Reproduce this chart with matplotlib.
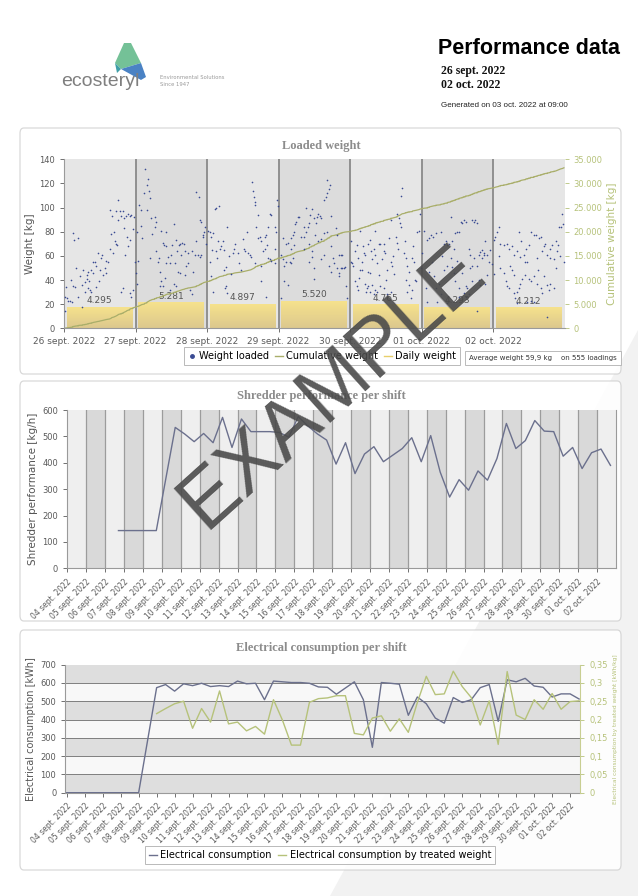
import numpy as np
import matplotlib
matplotlib.use("Agg")
import matplotlib.pyplot as plt
from matplotlib import font_manager
from matplotlib.colors import LinearSegmentedColormap
from matplotlib.lines import Line2D
from matplotlib.patches import FancyBboxPatch, Polygon
from matplotlib.ticker import FuncFormatter

# ---------------- data ----------------
load_days = ['26 sept. 2022', '27 sept. 2022', '28 sept. 2022', '29 sept. 2022',
             '30 sept. 2022', '01 oct. 2022', '02 oct. 2022']
daily_weight = [4295, 5281, 4897, 5520, 4765, 4293, 4212]

# loadings per day: (hour of day, kg)
loads_26 = [(0.2, 14), (0.3, 26), (0.9, 25), (1.4, 23), (2.0, 23), (2.6, 22), (0.7, 34), (2.2, 40),
            (2.9, 35), (3.7, 34), (2.9, 79), (3.3, 73), (4.8, 75), (4.0, 50), (4.8, 26), (5.3, 43),
            (6.2, 36), (6.4, 48), (7.0, 38), (7.6, 44), (7.8, 41), (8.1, 47), (8.7, 32), (8.4, 39),
            (9.2, 48), (9.6, 46), (9.8, 55), (10.3, 55), (10.7, 52), (6.2, 18), (7.0, 30), (8.1, 33),
            (9.2, 30), (10.9, 34), (13.7, 50), (14.0, 46), (14.2, 56), (14.8, 55), (15.3, 66),
            (15.9, 78), (16.4, 62), (17.0, 72), (17.3, 70), (17.8, 69), (15.6, 98), (16.0, 93),
            (17.6, 97), (18.2, 90), (18.7, 97), (19.8, 97), (19.2, 93), (20.1, 91), (20.9, 93),
            (21.4, 95), (22.0, 93), (22.4, 94), (18.1, 106), (20.3, 83), (21.0, 76), (21.6, 68),
            (22.1, 73), (23.1, 82), (19.2, 30), (19.8, 33), (22.0, 29), (22.6, 26), (23.1, 32),
            (23.7, 55), (12.0, 48), (12.9, 61), (11.8, 39), (12.5, 58), (11.3, 62), (13.2, 44),
            (16.8, 80), (20.6, 61), (23.4, 92)]
loads_27 = [(0.4, 80), (1.3, 102), (1.7, 98), (1.9, 85), (2.2, 75), (3.1, 132), (4.2, 124), (3.8, 119),
            (4.5, 114), (4.7, 108), (3.0, 112), (0.2, 46), (0.4, 37), (3.8, 98), (5.3, 91), (6.4, 92),
            (7.0, 88), (6.4, 84), (5.6, 78), (7.0, 64), (7.5, 55), (7.9, 58), (8.1, 47), (8.7, 39),
            (9.2, 35), (8.1, 35), (8.7, 81), (9.2, 71), (9.4, 69), (10.1, 80), (10.3, 68), (10.9, 59),
            (11.5, 54), (10.3, 54), (12.0, 61), (12.4, 69), (12.8, 86), (13.1, 54), (13.7, 73),
            (13.9, 64), (14.6, 69), (15.1, 70), (15.4, 61), (15.7, 71), (16.2, 70), (16.6, 64),
            (11.5, 32), (12.8, 37), (13.7, 35), (14.3, 47), (14.8, 46), (16.5, 44), (17.1, 52),
            (17.6, 54), (18.2, 32), (18.8, 64), (19.3, 47), (19.9, 61), (20.4, 113), (21.3, 109),
            (21.6, 90), (22.1, 88), (22.5, 77), (22.7, 76), (22.9, 80), (23.4, 84), (20.4, 72),
            (21.0, 61), (21.6, 59), (22.1, 61), (19.1, 28), (1.0, 56), (5.0, 58), (9.8, 42),
            (17.5, 62), (23.8, 70)]
loads_28 = [(0.3, 81), (0.9, 80), (1.4, 76), (2.0, 79), (2.6, 99), (3.1, 100), (4.0, 101), (0.9, 55),
            (1.4, 43), (2.0, 30), (1.8, 65), (3.1, 64), (3.7, 72), (4.2, 66), (4.8, 68), (5.3, 72),
            (5.6, 65), (5.6, 48), (6.5, 35), (10.4, 62), (12.4, 66), (12.9, 64), (13.8, 62), (14.3, 61),
            (14.7, 59), (13.5, 80), (15.1, 121), (15.4, 114), (15.8, 109), (16.0, 105), (16.2, 102),
            (16.6, 84), (17.1, 94), (17.1, 75), (17.7, 76), (18.0, 72), (19.4, 76), (19.9, 77),
            (20.5, 84), (16.2, 54), (18.2, 52), (20.5, 58), (21.0, 57), (21.6, 56), (18.8, 64),
            (19.4, 66), (22.7, 66), (18.0, 39), (19.9, 26), (21.0, 95), (21.6, 94), (23.6, 106),
            (23.8, 101), (22.7, 84), (23.3, 80), (22.7, 54), (6.4, 51), (6.2, 33), (6.7, 29),
            (6.7, 84), (8.7, 62), (10.9, 54), (8.0, 45), (9.5, 70), (11.5, 48), (7.5, 60), (3.5, 58),
            (9.0, 66), (12.0, 74), (20.0, 69)]
loads_29 = [(0.9, 61), (1.4, 57), (2.0, 52), (2.6, 55), (3.7, 55), (4.2, 54), (4.8, 58), (1.8, 39),
            (0.9, 25), (1.4, 75), (2.6, 70), (3.1, 71), (4.2, 75), (4.8, 77), (5.3, 80), (5.6, 86),
            (6.0, 88), (6.4, 92), (7.0, 92), (8.4, 84), (8.7, 76), (9.2, 80), (9.8, 84), (10.3, 87),
            (10.7, 94), (11.1, 99), (12.0, 91), (12.6, 87), (12.9, 92), (13.3, 95), (14.0, 93),
            (14.4, 91), (15.3, 106), (15.9, 109), (16.4, 112), (17.0, 115), (17.6, 93), (16.2, 123),
            (17.3, 119), (9.2, 100), (4.2, 66), (5.3, 69), (7.6, 76), (8.7, 66), (10.3, 70), (11.1, 64),
            (11.4, 59), (12.2, 77), (13.1, 72), (14.2, 74), (15.3, 79), (16.4, 80), (17.6, 68),
            (19.2, 83), (19.8, 77), (10.3, 55), (12.0, 50), (14.2, 57), (15.3, 61), (17.0, 52),
            (18.7, 54), (20.3, 61), (20.9, 61), (21.4, 61), (17.6, 47), (19.8, 50), (20.3, 43),
            (20.9, 50), (21.4, 50), (22.0, 50), (22.2, 51), (20.3, 46), (3.1, 36), (22.6, 35),
            (23.1, 25), (11.8, 41), (18.2, 58)]
loads_30 = [(0.2, 55), (0.6, 54), (1.1, 52), (1.7, 64), (2.5, 69), (2.8, 58), (3.4, 48), (4.0, 55),
            (4.5, 68), (5.1, 61), (5.9, 47), (6.2, 70), (6.8, 46), (7.4, 57), (7.9, 66), (8.5, 61),
            (9.1, 54), (9.6, 70), (10.2, 70), (10.8, 57), (11.3, 64), (11.9, 62), (12.5, 48), (13.0, 75),
            (13.6, 55), (14.2, 52), (1.7, 39), (2.3, 35), (2.8, 32), (4.0, 48), (5.1, 37), (5.4, 30),
            (5.7, 33), (6.2, 35), (6.8, 30), (7.4, 36), (7.9, 28), (8.5, 32), (9.1, 30), (10.2, 35),
            (11.3, 33), (12.5, 28), (13.6, 30), (3.4, 81), (6.8, 73), (8.5, 81), (11.3, 70), (13.6, 90),
            (15.8, 95), (16.4, 91), (17.0, 110), (17.5, 116), (16.7, 87), (17.2, 84), (15.3, 76),
            (15.8, 71), (18.1, 62), (18.7, 58), (19.2, 52), (19.8, 47), (20.9, 58), (21.5, 55),
            (21.7, 40), (22.1, 39), (19.2, 30), (20.4, 25), (20.9, 32), (22.6, 80), (23.2, 81),
            (23.5, 95), (18.7, 40), (19.8, 36), (14.5, 60), (14.8, 45), (3.0, 42), (9.8, 44),
            (12.0, 40), (0.5, 72), (4.8, 62), (7.0, 64), (16.0, 66), (18.4, 72), (21.0, 68), (23.8, 50)]
loads_01 = [(0.9, 81), (2.0, 73), (2.6, 75), (3.1, 77), (4.0, 76), (4.8, 79), (6.4, 80), (7.6, 70),
            (8.1, 72), (8.7, 69), (9.2, 70), (9.8, 92), (10.3, 72), (10.9, 66), (11.4, 79), (12.0, 80),
            (12.6, 80), (13.1, 88), (13.7, 87), (14.2, 90), (14.8, 88), (15.9, 66), (16.4, 61),
            (17.0, 90), (17.6, 88), (18.1, 90), (18.7, 87), (19.2, 61), (19.8, 63), (20.3, 65),
            (20.9, 62), (21.4, 72), (22.0, 61), (22.6, 55), (23.1, 65), (1.4, 33), (2.6, 47), (4.2, 43),
            (4.8, 33), (5.9, 37), (6.4, 28), (7.6, 48), (8.7, 52), (9.8, 58), (10.3, 51), (10.9, 46),
            (11.4, 39), (12.6, 33), (13.7, 46), (14.2, 29), (14.8, 35), (15.3, 33), (16.4, 50),
            (17.0, 39), (17.6, 58), (18.7, 52), (19.2, 40), (19.8, 36), (20.3, 58), (20.9, 61),
            (21.4, 37), (22.0, 44), (2.0, 22), (5.3, 22), (8.7, 21), (12.6, 26), (14.8, 26), (15.9, 28),
            (18.7, 14), (0.3, 62), (3.5, 55), (6.9, 60), (11.8, 56), (16.8, 52), (23.6, 53)]
loads_02 = [(0.2, 73), (0.8, 76), (1.3, 80), (1.9, 84), (2.5, 70), (3.6, 69), (4.7, 70), (5.3, 66),
            (6.4, 68), (7.0, 61), (8.1, 64), (8.7, 80), (9.2, 59), (10.3, 61), (10.9, 55), (11.5, 55),
            (12.0, 69), (12.6, 80), (13.7, 77), (14.3, 77), (14.8, 58), (15.4, 75), (16.0, 76),
            (16.5, 64), (17.1, 68), (17.6, 70), (18.2, 61), (19.3, 66), (19.9, 69), (20.4, 57),
            (21.0, 50), (21.6, 64), (21.8, 69), (22.1, 84), (22.7, 84), (23.3, 95), (23.6, 86),
            (2.5, 50), (3.6, 46), (4.2, 39), (4.7, 35), (5.3, 33), (6.4, 48), (7.0, 44), (8.1, 30),
            (8.7, 33), (9.2, 37), (9.8, 41), (10.9, 44), (12.0, 41), (12.6, 39), (13.7, 43), (14.8, 37),
            (16.0, 33), (16.5, 29), (17.1, 43), (18.2, 36), (18.8, 32), (19.3, 37), (20.4, 33),
            (7.0, 29), (7.5, 25), (8.1, 21), (11.5, 22), (12.6, 23), (13.7, 22), (18.2, 9), (0.5, 45),
            (2.0, 60), (5.8, 52), (9.5, 72), (11.0, 66), (15.0, 48), (19.0, 58), (21.3, 72),
            (22.4, 60), (23.8, 55)]
loadings = [loads_26, loads_27, loads_28, loads_29, loads_30, loads_01, loads_02]

shift_days = ['%02d sept. 2022' % d for d in range(4, 31)] + ['01 oct. 2022', '02 oct. 2022']

# two values per day (shift 1, shift 2), None = no data
perf_shift_hours = [5, 17]
shredder_perf = [None, None, None, None, None, 143, 143, 143, 143, 143,
                 None, 534, 509, 480, 511, 476, 572, 458, 566, 518,
                 518, 518, 515, 497, 575, 540, 510, 486, 395, 476,
                 359, 433, 461, 404, 429, 454, 495, 404, 503, 365,
                 270, 336, 296, 369, 334, 416, 549, 454, 484, 560,
                 520, 518, 425, 458, 378, 438, 452, 390]

elec_shift_hours = [0, 12]
elec_kwh = [0, 0, 0, 0, 0, 0, 0, 0, 0, None,
            574, 591, 555, 595, 585, 598, 580, 585, 580, 610,
            595, 598, 508, 610, 606, 602, 602, 598, 578, 576,
            538, 572, 606, 508, 248, 602, 598, 593, 423, 523,
            486, 408, 380, 520, 493, 508, 574, 591, 390, 617,
            606, 625, 583, 576, 523, 540, 540, 512]
elec_kwh_per_kg = [None] * 10 + [
    0.216, 0.23, 0.243, 0.25, 0.176, 0.23, 0.193, 0.278, 0.188, 0.193,
    0.169, 0.181, 0.16, 0.254, 0.198, 0.13, 0.13, 0.247, 0.257, 0.259,
    0.265, 0.265, 0.162, 0.158, 0.204, 0.21, 0.168, 0.202, 0.165, 0.246,
    0.318, 0.268, 0.27, 0.332, 0.29, 0.26, 0.185, 0.251, 0.132, 0.331,
    0.212, 0.2, 0.254, 0.228, 0.271, 0.228, 0.249, 0.251]

# ---------------- style ----------------
NAVY = '#3a4b93'
OLIVE = '#a9ae6a'
SLATE = '#6b708d'
GREEN = '#b6c27a'
TICK = '#5a5a5a'
SPINE = '#9a9a9a'

plt.rcParams['font.family'] = 'DejaVu Sans'

W, H = 638, 896


def fx(px):
    return px / W


def fy(py):
    return 1 - py / H


def frect(x0, y0, x1, y1):
    return [fx(x0), fy(y1), (x1 - x0) / W, (y1 - y0) / H]


def shift_series(values, hours):
    xs, ys = [], []
    for i, v in enumerate(values):
        if v is None:
            continue
        xs.append(i // 2 + hours[i % 2] / 24.0)
        ys.append(v)
    return xs, ys


def style_axis(ax):
    ax.tick_params(labelsize=6, colors=TICK, length=3, width=0.6)
    for s in ax.spines.values():
        s.set_color(SPINE)
        s.set_linewidth(0.8)
    ax.spines['top'].set_visible(False)


thousands = FuncFormatter(lambda v, _: '{:,}'.format(int(round(v))).replace(',', '.'))
comma_dec = FuncFormatter(lambda v, _: ('%g' % round(v, 2)).replace('.', ','))

fig = plt.figure(figsize=(W / 100, H / 100), dpi=100)
fig.patch.set_facecolor('white')

# faint background shape
for pts in ([(330, 896), (638, 330), (638, 896)],):
    fig.patches.append(Polygon([(fx(x), fy(y)) for x, y in pts], closed=True,
                               transform=fig.transFigure, facecolor='#f2f2f2',
                               edgecolor='none', zorder=-3))


def panel_box(x0, y0, x1, y1):
    fig.patches.append(FancyBboxPatch((fx(x0), fy(y1)), (x1 - x0) / W, (y1 - y0) / H,
                                      boxstyle='round,pad=0,rounding_size=0.006',
                                      transform=fig.transFigure, facecolor='white',
                                      alpha=0.85, edgecolor='#d2d2d2', lw=0.9, zorder=-2))


panel_box(20, 128, 621, 374)
panel_box(20, 381, 621, 621)
panel_box(20, 630, 621, 870)

# ---------------- header ----------------
logo = [([(124, 43), (131, 43), (141, 63), (121, 69), (115, 63)], '#74c197'),
        ([(121, 69), (141, 63), (146, 77), (141, 80)], '#4a82c4'),
        ([(115, 63), (121, 69), (117, 73)], '#3f9fa8')]
for pts, col in logo:
    fig.patches.append(Polygon([(fx(x), fy(y)) for x, y in pts], closed=True,
                               transform=fig.transFigure, facecolor=col, edgecolor='none'))
fig.text(fx(61), fy(86), 'ecosteryl', fontsize=14, color='#7f7f7f', family='Liberation Sans')
fig.text(fx(160), fy(79), 'Environmental Solutions', fontsize=3.8, color='#9a9a9a')
fig.text(fx(160), fy(86), 'Since 1947', fontsize=3.8, color='#9a9a9a')

fig.text(fx(438), fy(54), 'Performance data', fontsize=15.5, fontweight='bold',
         family='Liberation Sans', color='black')
fig.text(fx(441), fy(74), '26 sept. 2022', fontsize=8.5, fontweight='bold',
         family='Liberation Serif', color='#111111')
fig.text(fx(441), fy(88), '02 oct. 2022', fontsize=8.5, fontweight='bold',
         family='Liberation Serif', color='#111111')
fig.text(fx(441), fy(107), 'Generated on 03 oct. 2022 at 09:00', fontsize=5.8,
         family='Liberation Sans', color='#222222')

# ---------------- panel 1: loaded weight ----------------
ax1 = fig.add_axes(frect(64, 159.3, 564.5, 328.3))
ax1r = ax1.twinx()
ax1.set_zorder(ax1r.get_zorder() + 1)
ax1.patch.set_visible(False)

for i in range(len(load_days)):
    ax1r.axvspan(i, i + 1, color='#e6e6e6' if i % 2 == 0 else '#dcdcdc', lw=0, zorder=0)
    if i > 0:
        ax1r.axvline(i, color='#8a8a8a', lw=1.3, zorder=1)

bar_cmap = LinearSegmentedColormap.from_list('bar', ['#dcc88e', '#f6e28c'])
grad = np.linspace(0, 1, 64).reshape(-1, 1)
for i, w in enumerate(daily_weight):
    ax1r.imshow(grad, extent=(i + 0.04, i + 0.96, 0, w), origin='lower', aspect='auto',
                cmap=bar_cmap, zorder=2)
    ax1r.text(i + 0.5, w + 1400, '{:,}'.format(w).replace(',', '.'), fontsize=6.5,
              color='#555555', ha='center', va='center', zorder=3)

pts = sorted((d + h / 24.0, kg) for d, day in enumerate(loadings) for h, kg in day)
t = np.array([p[0] for p in pts])
kg = np.array([p[1] for p in pts])
ax1r.plot(np.r_[0, t], np.r_[0, np.cumsum(kg)], color=OLIVE, lw=0.9, zorder=4)
ax1.scatter(t, kg, s=1.4, color=NAVY, lw=0, zorder=5)

ax1.set_xlim(0, 7)
ax1.set_ylim(0, 140)
ax1r.set_ylim(0, 35000)
ax1.set_yticks(range(0, 141, 20))
ax1r.set_yticks(range(0, 35001, 5000))
ax1r.yaxis.set_major_formatter(thousands)
ax1.set_xticks(range(7))
ax1.set_xticklabels(load_days)
style_axis(ax1)
style_axis(ax1r)
ax1.tick_params(axis='x', labelsize=6.5)
ax1r.tick_params(axis='y', colors=GREEN)
for s in ax1r.spines.values():
    s.set_visible(False)
ax1.spines['right'].set_visible(False)
ax1.set_ylabel('Weight [kg]', fontsize=7.5, color='#555555', labelpad=3)
ax1r.set_ylabel('Cumulative weight [kg]', fontsize=7.5, color=GREEN, labelpad=3)

fig.text(fx(321), fy(146), 'Loaded weight', ha='center', va='center', fontsize=9,
         fontweight='bold', family='Liberation Serif', color='#8c8c8c')
leg1 = fig.legend(handles=[Line2D([], [], marker='o', ls='', color=NAVY, ms=2.5),
                           Line2D([], [], color=OLIVE, lw=1),
                           Line2D([], [], color='#e8cf6a', lw=1)],
                  labels=['Weight loaded', 'Cumulative weight', 'Daily weight'],
                  loc='center', bbox_to_anchor=(fx(322), fy(356)), ncol=3, fontsize=7,
                  handlelength=0.8, handletextpad=0.35, columnspacing=0.6,
                  fancybox=False, edgecolor='#a8a8a8', borderpad=0.45)
leg1.get_frame().set_linewidth(0.7)
fig.text(fx(543), fy(358), 'Average weight 59,9 kg    on 555 loadings', fontsize=5,
         ha='center', va='center', color='#333333',
         bbox=dict(boxstyle='square,pad=0.6', fc='white', ec='#b0b0b0', lw=0.6))

# ---------------- panel 2: shredder performance ----------------
ax2 = fig.add_axes(frect(67.2, 410, 616, 568.3))
for i in range(len(shift_days)):
    ax2.axvspan(i, i + 1, color='#efefef' if i % 2 == 0 else '#d9d9d9', lw=0, zorder=0)
    if i > 0:
        ax2.axvline(i, color='#9c9c9c', lw=0.9, zorder=1)
x2, y2 = shift_series(shredder_perf, perf_shift_hours)
ax2.plot(x2, y2, color=SLATE, lw=1.0, zorder=3)
ax2.set_xlim(0, len(shift_days))
ax2.set_ylim(0, 600)
ax2.set_yticks(range(0, 601, 100))
ax2.set_xticks(range(len(shift_days)))
ax2.set_xticklabels(shift_days, rotation=45, ha='right', rotation_mode='anchor')
style_axis(ax2)
ax2.tick_params(axis='x', labelsize=5.5)
ax2.set_ylabel('Shredder performance [kg/h]', fontsize=7.5, color='#555555', labelpad=3)
fig.text(fx(321), fy(396), 'Shredder performance per shift', ha='center', va='center',
         fontsize=9, fontweight='bold', family='Liberation Serif', color='#8c8c8c')

# ---------------- panel 3: electrical consumption ----------------
ax3 = fig.add_axes(frect(65.3, 664.6, 580, 792.7))
ax3r = ax3.twinx()
for k in range(7):
    ax3.axhspan(k * 100, (k + 1) * 100, color='#dedede' if k % 2 == 0 else '#f8f8f8',
                lw=0, zorder=0)
    if k > 0:
        ax3.axhline(k * 100, color='#7f7f7f', lw=0.7, zorder=1)
x3, y3 = shift_series(elec_kwh, elec_shift_hours)
x3g, y3g = shift_series(elec_kwh_per_kg, elec_shift_hours)
ax3r.plot(x3g, y3g, color=GREEN, lw=1.0, zorder=3)
ax3.plot(x3, y3, color=SLATE, lw=1.0, zorder=3)
ax3.set_xlim(-0.08, 28.55)
ax3.set_ylim(0, 700)
ax3r.set_ylim(0, 0.35)
ax3.set_yticks(range(0, 701, 100))
ax3r.set_yticks(np.arange(0, 0.351, 0.05))
ax3r.yaxis.set_major_formatter(comma_dec)
ax3.set_xticks(range(len(shift_days)))
ax3.set_xticklabels(shift_days, rotation=45, ha='right', rotation_mode='anchor')
style_axis(ax3)
style_axis(ax3r)
ax3.tick_params(axis='x', labelsize=5.5)
ax3r.tick_params(axis='y', colors=GREEN)
ax3r.spines['right'].set_color('#c8ce92')
ax3r.spines['left'].set_visible(False)
ax3r.spines['bottom'].set_visible(False)
ax3.spines['right'].set_visible(False)
ax3.set_ylabel('Electrical consumption [kWh]', fontsize=7, color='#555555', labelpad=3)
ax3r.set_ylabel('Electrical consumption by treated weight [kWh/kg]', fontsize=4.2,
                color=GREEN, labelpad=4)
fig.text(fx(321), fy(648), 'Electrical consumption per shift', ha='center', va='center',
         fontsize=9, fontweight='bold', family='Liberation Serif', color='#8c8c8c')
leg3 = fig.legend(handles=[Line2D([], [], color=SLATE, lw=1), Line2D([], [], color=GREEN, lw=1)],
                  labels=['Electrical consumption', 'Electrical consumption by treated weight'],
                  loc='center', bbox_to_anchor=(fx(320), fy(855)), ncol=2, fontsize=7,
                  handlelength=0.8, handletextpad=0.35, columnspacing=0.7,
                  fancybox=False, edgecolor='#a8a8a8', borderpad=0.45)
leg3.get_frame().set_linewidth(0.7)

# ---------------- watermark ----------------
fig.text(fx(332), fy(388), 'EXAMPLE', rotation=42, fontsize=58, color='#4a4a4a', alpha=0.9,
         ha='center', va='center', family='Liberation Sans', zorder=100)

fig.savefig('out.png', dpi=100)
